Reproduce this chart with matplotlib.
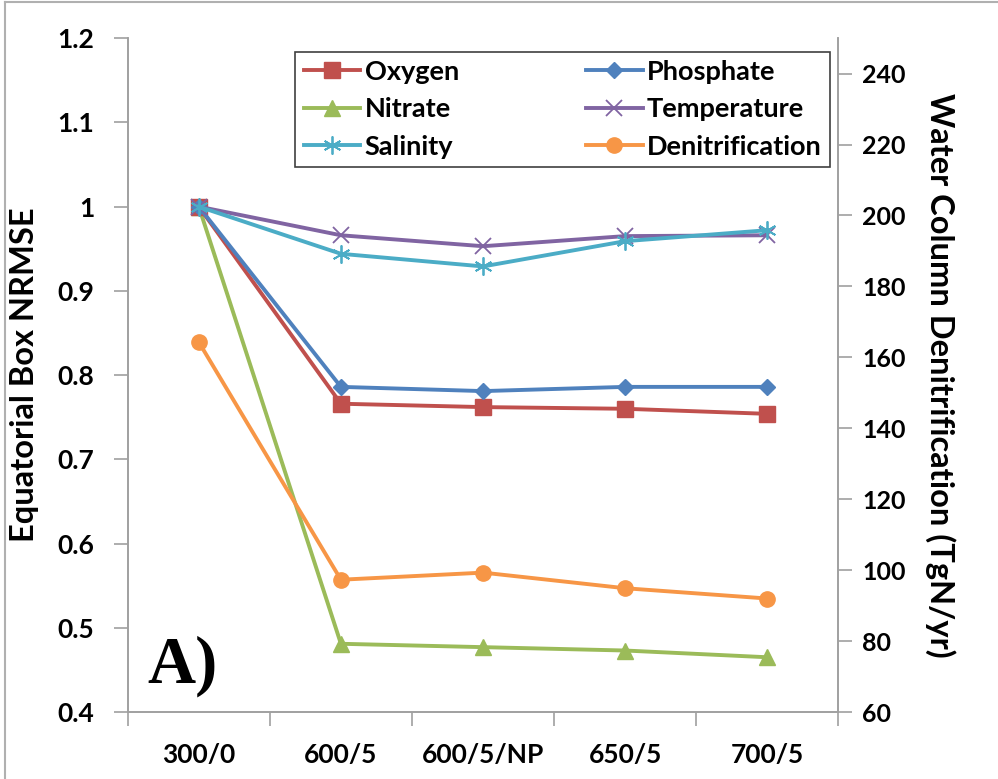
import matplotlib
matplotlib.use("Agg")
import matplotlib.pyplot as plt
from matplotlib.lines import Line2D

categories = ["300/0", "600/5", "600/5/NP", "650/5", "700/5"]
oxygen = [1.0, 0.766, 0.762, 0.760, 0.754]
phosphate = [1.0, 0.786, 0.781, 0.786, 0.786]
nitrate = [1.0, 0.481, 0.477, 0.473, 0.465]
temperature = [1.0, 0.966, 0.953, 0.965, 0.966]
salinity = [1.0, 0.944, 0.929, 0.959, 0.972]
denitrification = [164.3, 97.3, 99.3, 94.9, 92.0]

left_ticks = [0.4, 0.5, 0.6, 0.7, 0.8, 0.9, 1.0, 1.1, 1.2]
left_labels = ["0.4", "0.5", "0.6", "0.7", "0.8", "0.9", "1", "1.1", "1.2"]
right_ticks = [60, 80, 100, 120, 140, 160, 180, 200, 220, 240]

FONT = "Lato"
plt.rcParams["font.family"] = [FONT, "DejaVu Sans"]

fig = plt.figure(figsize=(9.98, 7.79), dpi=100)
ax = fig.add_axes([0.128, 0.086, 0.712, 0.865])
ax2 = ax.twinx()

x = list(range(len(categories)))
lw = 2.8
c_ox = "#C0504D"
c_ph = "#4F81BD"
c_ni = "#9BBB59"
c_te = "#8064A2"
c_sa = "#4BACC6"
c_de = "#F79646"

l_ni, = ax.plot(x, nitrate, color=c_ni, lw=lw, marker="^", ms=11, label="Nitrate")
l_ox, = ax.plot(x, oxygen, color=c_ox, lw=lw, marker="s", ms=11, label="Oxygen")
l_ph, = ax.plot(x, phosphate, color=c_ph, lw=lw, marker="D", ms=8, label="Phosphate")
l_te, = ax.plot(x, temperature, color=c_te, lw=lw, marker="x", ms=12, mew=1.3, label="Temperature")
l_sa, = ax.plot(x, salinity, color=c_sa, lw=lw, marker=(6, 2, 0), ms=13, mew=1.3, label="Salinity")
l_de, = ax2.plot(x, denitrification, color=c_de, lw=lw, marker="o", ms=11, label="Denitrification")

ax.set_xlim(-0.5, 4.5)
ax.set_ylim(0.4, 1.2)
ax2.set_ylim(60, 250)

ax.set_yticks(left_ticks)
ax.set_yticklabels(left_labels)
ax2.set_yticks(right_ticks)
ax.set_xticks(x)
ax.set_xticklabels(categories)
ax.set_xticks([i - 0.5 for i in range(len(categories) + 1)], minor=True)

gray = "#A0A0A0"
for a in (ax, ax2):
    for s in a.spines.values():
        s.set_color(gray)
        s.set_linewidth(1.2)
    a.spines["top"].set_visible(False)

ax.tick_params(axis="x", which="major", length=0, pad=22, labelsize=19)
ax.tick_params(axis="x", which="minor", length=10, width=1.2, color=gray, direction="out")
ax.tick_params(axis="y", length=10, width=1.2, color=gray, direction="out", pad=14, labelsize=19)
ax2.tick_params(axis="y", length=10, width=1.2, color=gray, direction="out", pad=7, labelsize=18)
for lab in ax.get_xticklabels() + ax.get_yticklabels() + ax2.get_yticklabels():
    lab.set_fontweight("bold")

ax.set_ylabel("Equatorial Box NRMSE", fontsize=23.5, fontweight="bold")
ax.yaxis.set_label_coords(-0.125, 0.5)
ax2.set_ylabel("Water Column Denitrification (TgN/yr)", fontsize=23.5, fontweight="bold",
               rotation=270, va="center")
ax2.yaxis.set_label_coords(1.143, 0.5)

handles = [l_ox, l_ni, l_sa, l_ph, l_te, l_de]
leg = ax2.legend(handles=handles, labels=[h.get_label() for h in handles], ncol=2,
                 loc="upper left", bbox_to_anchor=(0.236, 0.980),
                 prop={"size": 19.5, "weight": "bold"},
                 frameon=True, fancybox=False, edgecolor="#404040", framealpha=1,
                 handlelength=2.1, handletextpad=0.15, columnspacing=4.7,
                 labelspacing=0.5, borderpad=0.3, borderaxespad=0)
leg.get_frame().set_linewidth(1.2)

ax.text(0.028, 0.022, "A)", transform=ax.transAxes, fontsize=48, fontweight="bold",
        family="Liberation Serif", ha="left", va="bottom")

fig.add_artist(Line2D([0.005, 0.005], [0, 0.997], transform=fig.transFigure, color="#B0B0B0", lw=1.5))
fig.add_artist(Line2D([0.005, 1], [0.997, 0.997], transform=fig.transFigure, color="#B0B0B0", lw=1.5))

fig.savefig("out.png", dpi=100)
